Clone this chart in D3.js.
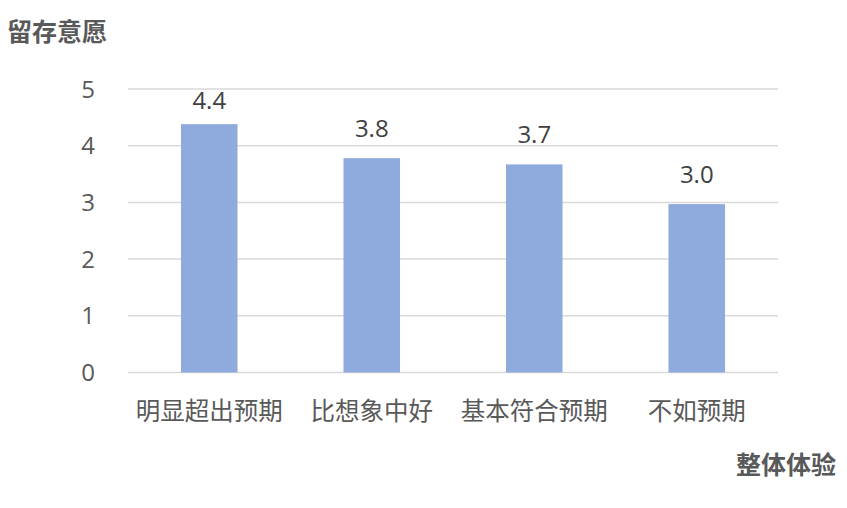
<!DOCTYPE html>
<html>
<head>
<meta charset="utf-8">
<script src="https://cdn.jsdelivr.net/npm/d3@7/dist/d3.min.js"></script>
<style>
  html, body { margin: 0; padding: 0; background: #fff; }
  svg { display: block; }
</style>
</head>
<body>
<svg id="chart" width="847" height="508"></svg>
<script>
const categories = ["明显超出预期", "比想象中好", "基本符合预期", "不如预期"];
const values = [4.38, 3.78, 3.67, 2.97];
const yTicks = [0, 1, 2, 3, 4, 5];
const yTitle = "留存意愿";
const xTitle = "整体体验";

const W = 847, H = 508;
const plot = { left: 128, right: 778, top: 89, bottom: 372.5 };
const svg = d3.select("#chart");
const fontNum = "'Open Sans', 'Noto Sans CJK SC', sans-serif";
const fontCJK = "'Noto Sans CJK SC', 'Open Sans', sans-serif";

const x = d3.scaleBand().domain(categories).range([plot.left, plot.right])
  .paddingInner(0.652).paddingOuter(0.326);
const y = d3.scaleLinear().domain([0, 5]).range([plot.bottom, plot.top]);

// gridlines
svg.append("g").selectAll("line").data(yTicks).join("line")
  .attr("x1", plot.left).attr("x2", plot.right)
  .attr("y1", d => y(d)).attr("y2", d => y(d))
  .attr("stroke", "#d9d9d9").attr("stroke-width", 1.5);

// y tick labels
svg.append("g").selectAll("text").data(yTicks).join("text")
  .attr("x", 95).attr("y", d => y(d)).attr("dy", "0.36em")
  .attr("text-anchor", "end")
  .attr("font-family", fontNum).attr("font-size", 24).attr("fill", "#595959")
  .text(d => d);

// bars
svg.append("g").selectAll("rect").data(values).join("rect")
  .attr("x", (d, i) => x(categories[i]))
  .attr("width", x.bandwidth())
  .attr("y", d => y(d))
  .attr("height", d => y(0) - y(d))
  .attr("fill", "#8faadc");

// value labels
svg.append("g").selectAll("text").data(values).join("text")
  .attr("x", (d, i) => x(categories[i]) + x.bandwidth() / 2)
  .attr("y", d => Math.max(y(d) - 21, y(5) + 20))
  .attr("text-anchor", "middle")
  .attr("font-family", fontNum).attr("font-size", 24).attr("fill", "#404040")
  .text(d => d.toFixed(1));

// category labels
svg.append("g").selectAll("text").data(categories).join("text")
  .attr("x", d => x(d) + x.bandwidth() / 2)
  .attr("y", 420)
  .attr("text-anchor", "middle")
  .attr("font-family", fontCJK).attr("font-size", 24.5).attr("fill", "#595959")
  .text(d => d);

// axis titles
svg.append("text").attr("x", 7).attr("y", 41)
  .attr("font-family", fontCJK).attr("font-size", 25).attr("font-weight", "bold")
  .attr("fill", "#595959").text(yTitle);
svg.append("text").attr("x", 836).attr("y", 474).attr("text-anchor", "end")
  .attr("font-family", fontCJK).attr("font-size", 25).attr("font-weight", "bold")
  .attr("fill", "#595959").text(xTitle);
</script>
</body>
</html>
